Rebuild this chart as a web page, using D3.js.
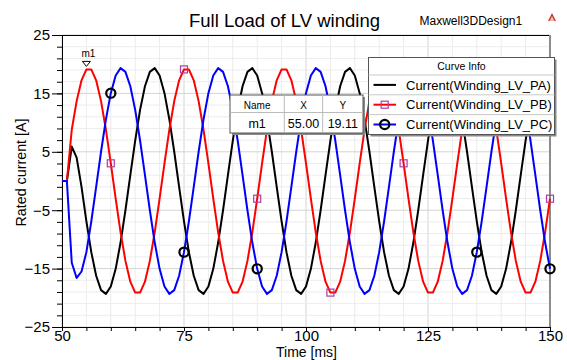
<!DOCTYPE html>
<html><head><meta charset="utf-8">
<script src="https://cdn.jsdelivr.net/npm/d3@7"></script>
<style>
body{margin:0;background:#fff}
svg{display:block}
text{font-family:"Liberation Sans",Arial,Helvetica,sans-serif;fill:#000}
</style>
</head><body>
<svg id="chart" width="567" height="360"></svg>
<script>
// ---------- data ----------
const time = [50,51,52,53,54,55,56,57,58,59,60,61,62,63,64,65,66,67,68,69,70,71,72,73,74,75,76,77,78,79,80,81,82,83,84,85,86,87,88,89,90,91,92,93,94,95,96,97,98,99,100,101,102,103,104,105,106,107,108,109,110,111,112,113,114,115,116,117,118,119,120,121,122,123,124,125,126,127,128,129,130,131,132,133,134,135,136,137,138,139,140,141,142,143,144,145,146,147,148,149,150];

const currentPA = [0,0,5.9,4.0,
 -1.01,-6.93,-12.18,-16.23,-18.69,-19.32,-18.06,-15.04,-10.54,-5.01,1.01,6.93,12.18,16.23,18.69,
 19.32,18.06,15.04,10.54,5.01,-1.01,-6.93,-12.18,-16.23,-18.69,-19.32,-18.06,-15.04,-10.54,-5.01,1.01,6.93,12.18,16.23,18.69,
 19.32,18.06,15.04,10.54,5.01,-1.01,-6.93,-12.18,-16.23,-18.69,-19.32,-18.06,-15.04,-10.54,-5.01,1.01,6.93,12.18,16.23,18.69,
 19.32,18.06,15.04,10.54,5.01,-1.01,-6.93,-12.18,-16.23,-18.69,-19.32,-18.06,-15.04,-10.54,-5.01,1.01,6.93,12.18,16.23,18.69,
 19.32,18.06,15.04,10.54,5.01,-1.01,-6.93,-12.18,-16.23,-18.69,-19.32,-18.06,-15.04,-10.54,-5.01,1.01,6.93,12.18,16.23,18.69,
 19.32,18.06];

const currentPB = [0,0,8.78,13.68,17.24,
 19.11,19.11,17.24,13.68,8.78,3.03,-3.03,-8.78,-13.68,-17.24,-19.11,-19.11,-17.24,-13.68,-8.78,-3.03,3.03,8.78,13.68,17.24,
 19.11,19.11,17.24,13.68,8.78,3.03,-3.03,-8.78,-13.68,-17.24,-19.11,-19.11,-17.24,-13.68,-8.78,-3.03,3.03,8.78,13.68,17.24,
 19.11,19.11,17.24,13.68,8.78,3.03,-3.03,-8.78,-13.68,-17.24,-19.11,-19.11,-17.24,-13.68,-8.78,-3.03,3.03,8.78,13.68,17.24,
 19.11,19.11,17.24,13.68,8.78,3.03,-3.03,-8.78,-13.68,-17.24,-19.11,-19.11,-17.24,-13.68,-8.78,-3.03,3.03,8.78,13.68,17.24,
 19.11,19.11,17.24,13.68,8.78,3.03,-3.03,-8.78,-13.68,-17.24,-19.11,-19.11,-17.24,-13.68,-8.78,-3.03];

const currentPC = [0,0,-14.0,-16.6,-15.5,
 -12.18,-6.93,-1.01,5.01,10.54,15.04,18.06,
 19.32,18.69,16.23,12.18,6.93,1.01,-5.01,-10.54,-15.04,-18.06,-19.32,-18.69,-16.23,-12.18,-6.93,-1.01,5.01,10.54,15.04,18.06,
 19.32,18.69,16.23,12.18,6.93,1.01,-5.01,-10.54,-15.04,-18.06,-19.32,-18.69,-16.23,-12.18,-6.93,-1.01,5.01,10.54,15.04,18.06,
 19.32,18.69,16.23,12.18,6.93,1.01,-5.01,-10.54,-15.04,-18.06,-19.32,-18.69,-16.23,-12.18,-6.93,-1.01,5.01,10.54,15.04,18.06,
 19.32,18.69,16.23,12.18,6.93,1.01,-5.01,-10.54,-15.04,-18.06,-19.32,-18.69,-16.23,-12.18,-6.93,-1.01,5.01,10.54,15.04,18.06,
 19.32,18.69,16.23,12.18,6.93,1.01,-5.01,-10.54,-15.04];

const seriesNames = ["Current(Winding_LV_PA)","Current(Winding_LV_PB)","Current(Winding_LV_PC)"];
const seriesColors = ["#000000","#ff0000","#0000ff"];
const seriesSymbols = ["none","square","circle"];
const symbolTimes = [60,75,90,105,120,135,150];

const xTickLabels = [50,75,100,125,150];
const yTickLabels = [-25,-15,-5,5,15,25];

const markerNames = ["m1"];
const markerX = [55.00];
const markerY = [19.11];

const titleText = "Full Load of LV winding";
const designText = "Maxwell3DDesign1";
const xLabel = "Time [ms]";
const yLabel = "Rated current [A]";

// ---------- layout ----------
const svg = d3.select("#chart");
const L = 62, R = 550, T = 35, B = 327;
const x = d3.scaleLinear().domain([50,150]).range([L,R]);
const y = d3.scaleLinear().domain([-25,25]).range([B,T]);

// grid
const grid = svg.append("g");
const xMinor = d3.range(50,150.1,5);
const yMinor = d3.range(-25,25.1,2);
grid.selectAll(".vg").data(xMinor).join("line")
  .attr("x1",d=>x(d)).attr("x2",d=>x(d)).attr("y1",T).attr("y2",B)
  .attr("stroke",d=>(d%25===0)?"#d4d4d4":"#ececec").attr("stroke-width",1);
grid.selectAll(".hg").data(yMinor).join("line")
  .attr("x1",L).attr("x2",R).attr("y1",d=>y(d)).attr("y2",d=>y(d))
  .attr("stroke",d=>(yTickLabels.includes(d))?"#d4d4d4":"#ececec").attr("stroke-width",1);

// frame top / right
svg.append("line").attr("x1",L).attr("x2",R).attr("y1",T+0.5).attr("y2",T+0.5).attr("stroke","#000");
svg.append("line").attr("x1",R).attr("x2",R).attr("y1",T).attr("y2",B).attr("stroke","#8c8c8c").attr("stroke-width",2);

// axes
const yMinorAxis = svg.append("g").attr("transform",`translate(${L},0)`)
  .call(d3.axisLeft(y).tickValues(yMinor).tickSize(5).tickFormat(""));
yMinorAxis.select(".domain").remove();
const yAxis = svg.append("g").attr("transform",`translate(${L},0)`)
  .call(d3.axisLeft(y).tickValues(yTickLabels).tickSize(10).tickPadding(2).tickSizeOuter(0));
yAxis.selectAll("text").attr("font-size",15).attr("font-family","Liberation Sans, Arial, sans-serif");

const xMinorAxis = svg.append("g").attr("transform",`translate(0,${B})`)
  .call(d3.axisBottom(x).tickValues(xMinor).tickSize(4).tickFormat(""));
xMinorAxis.select(".domain").remove();
const xAxis = svg.append("g").attr("transform",`translate(0,${B})`)
  .call(d3.axisBottom(x).tickValues(xTickLabels).tickSize(4).tickPadding(0).tickSizeOuter(0));
xAxis.selectAll("text").attr("font-size",15).attr("dy","0.64em").attr("font-family","Liberation Sans, Arial, sans-serif");
svg.selectAll(".domain").attr("stroke","#000");
svg.selectAll(".tick line").attr("stroke","#000");

// curves
const series = [currentPA, currentPB, currentPC];
const line = d3.line().x((d,i)=>x(time[i])).y(d=>y(d));
series.forEach((s,k)=>{
  svg.append("path").datum(s).attr("d",line)
    .attr("fill","none").attr("stroke",seriesColors[k]).attr("stroke-width",2)
    .attr("stroke-linejoin","round");
});

// curve symbols
function drawSymbol(g, type, cx, cy){
  if(type==="square"){
    g.append("rect").attr("x",cx-3.5).attr("y",cy-3.5).attr("width",7).attr("height",7)
      .attr("fill","none").attr("stroke","#b03aa8").attr("stroke-width",1.2);
  } else if(type==="circle"){
    g.append("circle").attr("cx",cx).attr("cy",cy).attr("r",4.6)
      .attr("fill","none").attr("stroke","#000").attr("stroke-width",2.2);
  }
}
const symG = svg.append("g");
series.forEach((s,k)=>{
  if(seriesSymbols[k]==="none") return;
  symbolTimes.forEach(t=>{
    const i = time.indexOf(t);
    drawSymbol(symG, seriesSymbols[k], x(t), y(s[i]));
  });
});

// marker m1
markerNames.forEach((n,i)=>{
  const mx = x(markerX[i]), my = y(markerY[i]);
  svg.append("path").attr("d",`M${mx-4},${my-8} L${mx+4},${my-8} L${mx},${my-3} Z`)
    .attr("fill","#fff").attr("stroke","#000").attr("stroke-width",1);
  svg.append("text").attr("x",mx+2).attr("y",my-12).attr("text-anchor","middle")
    .attr("font-size",10).text(n);
});

// marker table
(function(){
  const tx=230, ty=95, tw=133, th=38, hh=17.5;
  const g = svg.append("g");
  g.append("rect").attr("x",tx+2).attr("y",ty+2).attr("width",tw).attr("height",th).attr("fill","#8a8a8a");
  g.append("rect").attr("x",tx).attr("y",ty).attr("width",tw).attr("height",th).attr("fill","#fff").attr("stroke","#555").attr("stroke-width",1);
  g.append("line").attr("x1",tx).attr("x2",tx+tw).attr("y1",ty+hh).attr("y2",ty+hh).attr("stroke","#bbb");
  const cols=[tx, 284.3, 322.7, tx+tw];
  [cols[1],cols[2]].forEach(cx=>g.append("line").attr("x1",cx).attr("x2",cx).attr("y1",ty).attr("y2",ty+th).attr("stroke","#bbb"));
  const heads=["Name","X","Y"];
  heads.forEach((h,j)=>g.append("text").attr("x",(cols[j]+cols[j+1])/2).attr("y",ty+13.5)
    .attr("text-anchor","middle").attr("font-size",10).text(h));
  markerNames.forEach((n,i)=>{
    const vals=[n, markerX[i].toFixed(2), markerY[i].toFixed(2)];
    vals.forEach((v,j)=>g.append("text").attr("x",(cols[j]+cols[j+1])/2).attr("y",ty+hh+15)
      .attr("text-anchor","middle").attr("font-size",12.5).text(v));
  });
})();

// legend
(function(){
  const lx=368.5, ly=57.5, lw=186, lh=77, hh=17.5, rh=19.8;
  const g = svg.append("g");
  g.append("rect").attr("x",lx+2).attr("y",ly+2).attr("width",lw).attr("height",lh).attr("fill","#8a8a8a");
  g.append("rect").attr("x",lx).attr("y",ly).attr("width",lw).attr("height",lh).attr("fill","#fff").attr("stroke","#555");
  g.append("text").attr("x",lx+lw/2).attr("y",ly+12.5).attr("text-anchor","middle").attr("font-size",10.5).text("Curve Info");
  seriesNames.forEach((n,k)=>{
    const top = ly+hh+k*rh;
    g.append("line").attr("x1",lx).attr("x2",lx+lw).attr("y1",top).attr("y2",top).attr("stroke","#c8c8c8");
    const cy = top+rh/2;
    g.append("line").attr("x1",373.5).attr("x2",396).attr("y1",cy).attr("y2",cy)
      .attr("stroke",seriesColors[k]).attr("stroke-width",2);
    drawSymbol(g, seriesSymbols[k], 384.7, cy);
    g.append("text").attr("x",406).attr("y",cy+4.6).attr("font-size",13).text(n);
  });
})();

// titles
svg.append("text").attr("x",284.5).attr("y",27).attr("text-anchor","middle").attr("font-size",18.5).text(titleText);
svg.append("text").attr("x",419.5).attr("y",24.5).attr("font-size",12).text(designText);
svg.append("text").attr("x",(L+R)/2+0.5).attr("y",357).attr("text-anchor","middle").attr("font-size",14).text(xLabel);
svg.append("text").attr("transform","translate(25.5,172.5) rotate(-90)").attr("text-anchor","middle").attr("font-size",14.3).text(yLabel);

// logo
const logo = svg.append("g").attr("transform","translate(552,13)");
logo.append("path").attr("d","M0,0 L4,8 L-4,8 Z").attr("fill","#c0392b");
logo.append("path").attr("d","M0,3 L2.5,8 L-2.5,8 Z").attr("fill","#f2b8b0");
</script>
</body></html>
